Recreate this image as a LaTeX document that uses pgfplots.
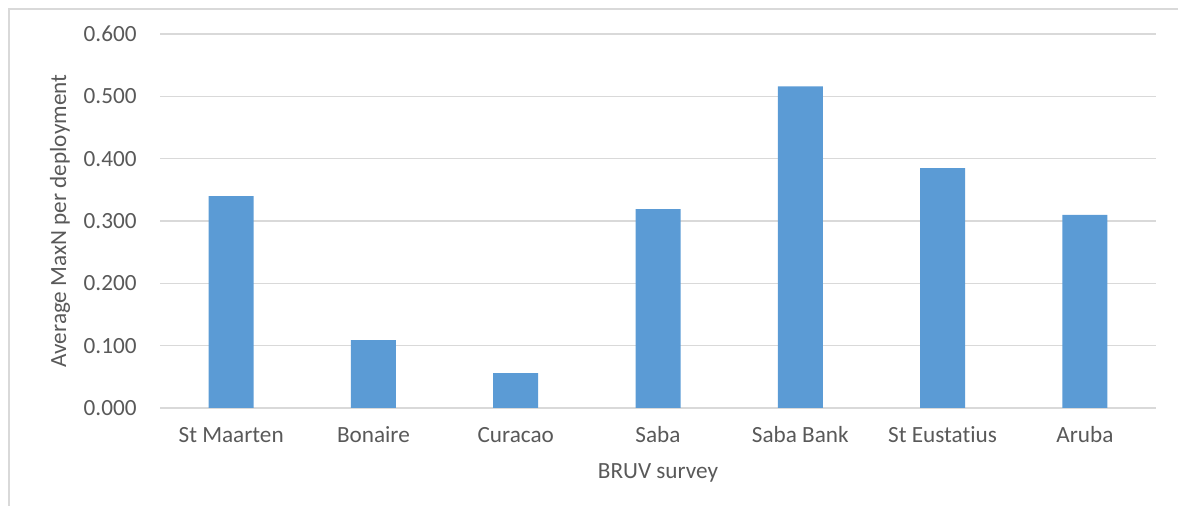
\documentclass[border=0pt]{standalone}
\usepackage{pgfplots}
\pgfplotsset{compat=1.18}
\usepackage{fontspec}
\setmainfont{Carlito}[Ligatures=NoCommon]

\definecolor{barblue}{HTML}{5B9BD5}
\definecolor{gridgrey}{HTML}{D9D9D9}
\definecolor{textgrey}{HTML}{595959}

\begin{document}
\begin{tikzpicture}[font=\fontsize{11.6}{13.5}\selectfont]
  \path[use as bounding box] (0,0) rectangle (589pt,253pt);
  % chart frame (top and left edges)
  \draw[gridgrey, line width=1pt] (4.5pt,0) -- (4.5pt,248.5pt) -- (589pt,248.5pt);
  \begin{axis}[
    at={(80pt,49pt)}, anchor=south west,
    scale only axis, width=498pt, height=187pt,
    ybar, bar width=22.5pt,
    xmin=-0.5, xmax=6.5, ymin=0, ymax=0.6,
    xtick=data,
    xticklabels={St Maarten, Bonaire, Curacao, Saba, Saba Bank, St Eustatius, Aruba},
    ytick={0,0.1,...,0.6},
    major tick length=0pt,
    axis line style={draw=none},
    ymajorgrids, grid style={gridgrey, line width=0.8pt},
    /pgf/number format/.cd, fixed, fixed zerofill, precision=3, assume math mode=true,
    /pgfplots/.cd,
    tick label style={textgrey},
    yticklabel style={anchor=east, inner sep=0pt, xshift=-11.5pt},
    xticklabel style={anchor=base, inner sep=0pt, yshift=-17.5pt},
    xlabel={BRUV survey},
    ylabel={Average MaxN per deployment},
    label style={textgrey},
    xlabel style={at={(axis description cs:0.5,0)}, anchor=base, inner sep=0pt, yshift=-35.5pt},
    ylabel style={at={(axis description cs:-0.1004,0.5)}, anchor=center, inner sep=0pt},
  ]
    \addplot[fill=barblue, draw=none] coordinates {
      (0,0.340) (1,0.109) (2,0.056) (3,0.319) (4,0.516) (5,0.385) (6,0.310)
    };
  \end{axis}
\end{tikzpicture}
\end{document}
